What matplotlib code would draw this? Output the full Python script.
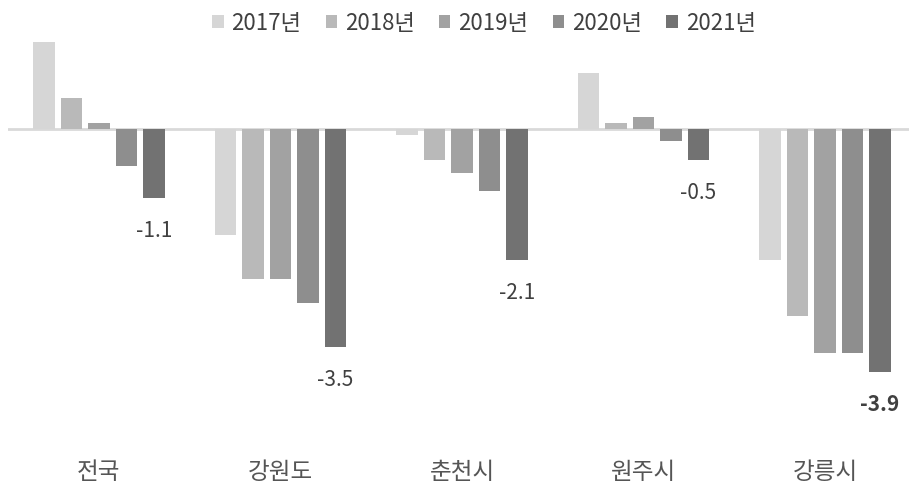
import numpy as np
import matplotlib
matplotlib.use("Agg")
import matplotlib.pyplot as plt

plt.rcParams['font.family'] = ['Noto Sans CJK KR', 'DejaVu Sans']

# data
regions = ['전국', '강원도', '춘천시', '원주시', '강릉시']
years = ['2017년', '2018년', '2019년', '2020년', '2021년']
v2017 = [1.4, -1.7, -0.1, 0.9, -2.1]
v2018 = [0.5, -2.4, -0.5, 0.1, -3.0]
v2019 = [0.1, -2.4, -0.7, 0.2, -3.6]
v2020 = [-0.6, -2.8, -1.0, -0.2, -3.6]
v2021 = [-1.1, -3.5, -2.1, -0.5, -3.9]
series = [v2017, v2018, v2019, v2020, v2021]
colors = ['#d6d6d6', '#b9b9b9', '#a2a2a2', '#8e8e8e', '#727272']

fig = plt.figure(figsize=(9.09, 4.89), dpi=100)
# axes placed in pixel terms: zero line at y=130, ~62 px per unit
ax = fig.add_axes([8.25 / 909, (489 - 430) / 489, 907.5 / 909, 395 / 489])

x = np.arange(len(regions))
step = 0.1515
width = 0.121
for k, (vals, col, yr) in enumerate(zip(series, colors, years)):
    bars = ax.bar(x + (k - 2) * step, vals, width, color=col, label=yr, zorder=2)
    if k == 4:
        # only the latest year gets value labels
        for i, b in enumerate(bars):
            v = vals[i]
            ax.annotate(f'{v:.1f}', (b.get_x() + b.get_width() / 2, v),
                        xytext=(0, -32), textcoords='offset pixels',
                        ha='center', va='center', fontsize=15, color='#404040',
                        fontweight='bold' if i == 4 else 'normal')

ax.axhline(0, color='#d9d9d9', lw=2, zorder=1)
ax.set_xlim(-0.5, 4.5)
ax.set_ylim(-(430 - 130) / 62.3, (130 - 35) / 62.3)
for s in ax.spines.values():
    s.set_visible(False)
ax.set_yticks([])
ax.set_xticks(x)
ax.set_xticklabels(regions, fontsize=17, color='#555555')
ax.tick_params(axis='x', length=0, pad=22)

leg = fig.legend(loc='center', bbox_to_anchor=(484 / 909, 1 - 24 / 489), ncol=5,
                 frameon=False, fontsize=16, handlelength=0.5, handleheight=0.5,
                 handletextpad=0.36, columnspacing=1.1, borderpad=0)
for t in leg.get_texts():
    t.set_color('#404040')

fig.savefig('out.png', dpi=100)
